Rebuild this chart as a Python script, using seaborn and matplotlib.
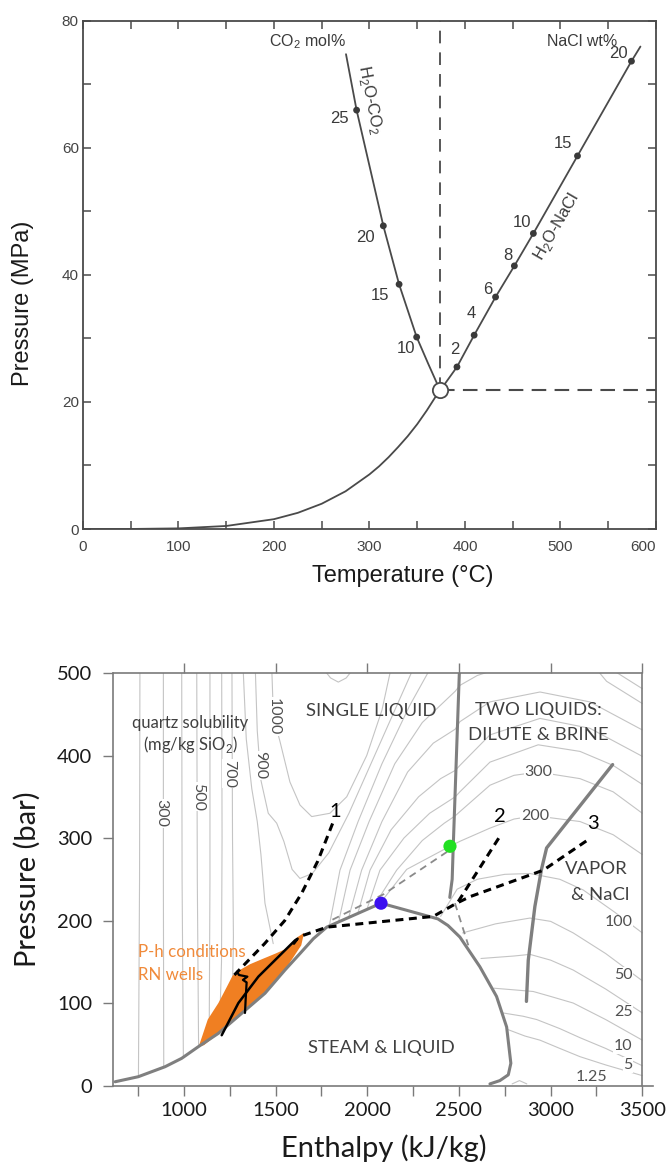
import numpy as np
import pandas as pd
import matplotlib.pyplot as plt
import seaborn as sns

sns.set_style('ticks')
plt.rcParams['font.family'] = ['Liberation Sans', 'DejaVu Sans']
plt.rcParams['mathtext.fontset'] = 'custom'
plt.rcParams['mathtext.rm'] = 'Liberation Sans'

# ---------------- top panel data (T in C, P in MPa)
boil_T = [0, 50, 100, 150, 200, 225, 250, 275, 300, 310, 320, 330, 340, 350, 360, 370, 374]
boil_P = [0.0, 0.01, 0.10, 0.48, 1.55, 2.55, 3.98, 5.94, 8.6, 9.86, 11.3, 12.9, 14.6, 16.5, 18.65, 21.0, 21.8]
crit_T, crit_P = 374, 21.8

co2_T = [374, 361.5, 349.4, 331, 314.5, 286.5, 275.4]
co2_P = [21.8, 26.0, 30.2, 38.5, 47.7, 65.9, 74.7]
co2_mark_T = [349.4, 331, 314.5, 286.5]
co2_mark_P = [30.2, 38.5, 47.7, 65.9]
co2_labels = ['10', '15', '20', '25']
co2_lab_T = [338, 311, 296, 269]
co2_lab_P = [28.4, 36.8, 45.9, 64.6]

nacl_T = [374, 391.6, 409.6, 432, 451.7, 471.6, 517.8, 574.3, 583.7]
nacl_P = [21.8, 25.5, 30.5, 36.5, 41.4, 46.5, 58.7, 73.6, 75.9]
nacl_mark_T = [391.6, 409.6, 432, 451.7, 471.6, 517.8, 574.3]
nacl_mark_P = [25.5, 30.5, 36.5, 41.4, 46.5, 58.7, 73.6]
nacl_labels = ['2', '4', '6', '8', '10', '15', '20']
nacl_lab_T = [389, 407, 424, 445, 460, 503, 561]
nacl_lab_P = [28.3, 33.9, 37.7, 43.1, 48.2, 60.6, 74.8]

# ---------------- bottom panel data (h in kJ/kg, P in bar)
dome_h = [625, 751, 897, 988, 1078, 1188, 1315, 1442, 1551, 1633, 1706, 1779,
          2075, 2385, 2440, 2505, 2614, 2705, 2760, 2783, 2769, 2723, 2669]
dome_P = [4.6, 10.7, 22.8, 33, 47, 63.3, 87.5, 111.8, 140, 160, 178, 192,
          221, 202, 194, 180, 144, 108, 71, 27, 13, 6, 2]
blue_h, blue_P = 2075, 221
green_h, green_P = 2451, 290

liq_bound_h = [2502, 2469, 2463, 2450]
liq_bound_P = [500, 291, 250, 228]
vap_bound_h = [3338, 2978, 2950, 2914, 2878, 2868]
vap_bound_P = [389, 288, 262, 217, 152, 102]

path1_h = [1275, 1440, 1550, 1642, 1730, 1815]
path1_P = [134, 172, 200, 233, 272, 320]
path2_h = [2496, 2723]
path2_P = [223, 302]
path2_ext_h = [2478, 2551]
path2_ext_P = [221, 170]
path3_h = [1650, 1780, 2360, 2487, 2561, 2960, 3218]
path3_P = [182, 192, 205, 221, 229, 261, 300]
grey_dash_h = [1810, 2090, 2440]
grey_dash_P = [201, 232, 284]

rn_h = [1080, 1100, 1130, 1188, 1235, 1265, 1297, 1360, 1424, 1500, 1560, 1620,
        1655, 1640, 1551, 1442, 1315, 1188, 1110]
rn_P = [47, 60, 80, 100, 120, 133, 139, 147, 153, 160, 166, 180,
        185, 170, 140, 112, 87, 63, 49]
well_a_h = [1206, 1297, 1406, 1515, 1606, 1620, 1600]
well_a_P = [61, 100, 132, 156, 176, 178, 172]
well_b_h = [1333, 1338, 1342, 1322, 1346, 1300, 1290]
well_b_P = [88, 110, 125, 128, 132, 134, 138]

# quartz solubility isolines (h, P)
q_200 = [(760, 500), (758, 250), (752, 11)]
q_300 = [(888, 500), (888, 250), (890, 23)]
q_400 = [(988, 500), (990, 250), (997, 34)]
q_500 = [(1070, 500), (1073, 250), (1080, 48)]
q_600 = [(1142, 500), (1142, 250), (1138, 66)]
q_650 = [(1206, 500), (1208, 300), (1205, 150), (1195, 72)]
q_700 = [(1262, 500), (1265, 300), (1270, 180), (1262, 82)]
q_800 = [(1324, 500), (1340, 420), (1370, 360), (1400, 320), (1420, 280), (1442, 221), (1487, 172)]
q_900 = [(1390, 500), (1400, 430), (1420, 370), (1460, 330), (1506, 318), (1545, 296), (1590, 262),
         (1633, 251), (1700, 257), (1790, 282), (1900, 330), (2050, 405), (2200, 480), (2240, 500)]
q_1000 = [(1480, 500), (1488, 447), (1524, 417), (1578, 368), (1633, 340), (1697, 326), (1796, 330),
          (1888, 350), (1997, 400), (2080, 455), (2124, 500)]
q_top = [(1760, 505), (1800, 494), (1842, 489), (1885, 494), (1924, 505)]
q_d1 = [(1795, 196), (1851, 261), (1950, 320), (2080, 390), (2230, 460), (2330, 500)]
q_d2 = [(1845, 200), (1906, 261), (2010, 320), (2150, 390), (2300, 440), (2480, 478),
        (2505, 485), (2600, 497), (2669, 502)]
q_d3 = [(1900, 205), (1969, 261), (2080, 320), (2220, 380), (2360, 415), (2480, 432),
        (2505, 441), (2669, 465), (2942, 477), (3214, 465), (3500, 431)]
q_d4 = [(1950, 210), (2015, 261), (2130, 310), (2280, 350), (2400, 372), (2480, 382),
        (2505, 388), (2669, 425), (2942, 445), (3214, 433), (3500, 399)]
q_d5 = [(2000, 215), (2069, 261), (2200, 300), (2340, 330), (2480, 350),
        (2505, 356), (2669, 392), (2932, 413), (3160, 405), (3341, 388), (3500, 365)]
q_d6 = [(2040, 219), (2160, 261), (2300, 297), (2420, 318), (2480, 327),
        (2505, 332), (2669, 364), (2800, 376), (2932, 380), (3160, 372), (3341, 356), (3500, 330)]
q_d7 = [(2070, 221), (2215, 262), (2451, 290),
        (2505, 296), (2669, 312), (2800, 323), (2914, 327), (3160, 320), (3341, 304), (3500, 280)]
q_arch_top = [(3260, 502), (3305, 490), (3500, 463)]
q_arch_top2 = [(3350, 502), (3500, 481)]
q_150 = [(2400, 205), (2490, 238), (2600, 250), (2750, 256), (2887, 257), (3050, 250),
         (3178, 237), (3350, 210), (3500, 185)]
q_100 = [(2520, 185), (2700, 196), (2887, 203), (3000, 199), (3123, 185), (3300, 160), (3500, 127)]
q_50 = [(2620, 154), (2800, 157), (2887, 159), (3000, 152), (3123, 140), (3300, 117), (3500, 88)]
q_25 = [(2690, 118), (2800, 116), (2905, 114), (3000, 108), (3123, 100), (3300, 80), (3500, 55)]
q_10 = [(2740, 88), (2850, 84), (2924, 80), (3050, 69), (3160, 58), (3300, 45), (3500, 24)]
q_5 = [(2765, 68), (2860, 60), (2942, 55), (3050, 45), (3160, 35), (3300, 25), (3500, 12)]
q_125 = [(2790, 2), (2830, 6), (2870, 2)]

quartz_lines = [q_200, q_300, q_400, q_500, q_600, q_650, q_700, q_800, q_900, q_1000, q_top,
                q_d1, q_d2, q_d3, q_d4, q_d5, q_d6, q_d7, q_arch_top, q_arch_top2,
                q_150, q_100, q_50, q_25, q_10, q_5, q_125]

rot_labels = ['300', '500', '700', '900', '1000']
rot_lab_h = [879, 1078, 1248, 1415, 1488]
rot_lab_P = [330, 350, 378, 388, 447]
flat_labels = ['300', '200', '100', '50', '25', '10', '5', '1.25']
flat_lab_h = [2932, 2914, 3369, 3396, 3396, 3396, 3423, 3223]
flat_lab_P = [380, 327, 198, 134, 89.5, 48, 25, 10.7]

fig = plt.figure(figsize=(6.67, 11.65), dpi=100)

# =============== top panel
ax1 = fig.add_axes([0.1244, 0.5459, 0.8591, 0.4365])
grey = '#4a4a4a'
sns.lineplot(x=boil_T, y=boil_P, ax=ax1, sort=False, estimator=None, color=grey, lw=1.3)
sns.lineplot(x=co2_T, y=co2_P, ax=ax1, sort=False, estimator=None, color=grey, lw=1.3)
sns.lineplot(x=nacl_T, y=nacl_P, ax=ax1, sort=False, estimator=None, color=grey, lw=1.3)
ax1.plot([crit_T, crit_T], [crit_P, 80], color=grey, lw=1.3, ls=(0, (7, 5)))
ax1.plot([crit_T, 600], [crit_P, crit_P], color=grey, lw=1.5, ls=(0, (7, 4)))
sns.scatterplot(x=co2_mark_T + nacl_mark_T, y=co2_mark_P + nacl_mark_P, ax=ax1,
                color='#3a3a3a', s=24, edgecolor='none', zorder=4)
ax1.plot([crit_T], [crit_P], 'o', ms=11, mfc='white', mec=grey, mew=1.3, zorder=5)
for t, x, y in zip(co2_labels, co2_lab_T, co2_lab_P):
    ax1.text(x, y, t, fontsize=12, color='#3a3a3a', ha='center', va='center')
for t, x, y in zip(nacl_labels, nacl_lab_T, nacl_lab_P):
    ax1.text(x, y, t, fontsize=12, color='#3a3a3a', ha='center', va='center')
ax1.text(235, 76.7, 'CO$_2$ mol%', fontsize=11.5, color='#3a3a3a', ha='center', va='center')
ax1.text(523, 76.7, 'NaCl wt%', fontsize=11.5, color='#3a3a3a', ha='center', va='center')
ax1.text(301, 67.5, 'H$_2$O-CO$_2$', fontsize=12, color='#3a3a3a', ha='center', va='center',
         rotation=-79)
ax1.text(496, 47.6, 'H$_2$O-NaCl', fontsize=12, color='#3a3a3a', ha='center', va='center',
         rotation=60)

ax1.set_xlim(0, 600)
ax1.set_ylim(0, 80)
ax1.set_xticks(range(0, 601, 100))
ax1.set_xticks(range(0, 601, 50), minor=True)
ax1.set_yticks(range(0, 81, 20))
ax1.set_yticks(range(0, 81, 10), minor=True)
ax1.tick_params(which='both', direction='in', top=True, right=True, length=6, width=1.1,
                color=grey, labelsize=11, labelcolor='#444444')
ax1.tick_params(axis='x', pad=8)
ax1.tick_params(axis='y', pad=3)
for s in ax1.spines.values():
    s.set_color(grey)
    s.set_linewidth(1.3)
ax1.get_xticklabels()[-1].set_horizontalalignment('right')
ax1.set_xlabel('Temperature (°C)', fontsize=17, color='#1a1a1a')
ax1.set_ylabel('Pressure (MPa)', fontsize=17, color='#1a1a1a')
ax1.xaxis.set_label_coords(0.558, -0.07)
ax1.yaxis.set_label_coords(-0.086, 0.444)

# =============== bottom panel
ax2 = fig.add_axes([0.1699, 0.0682, 0.8096, 0.3541])
bfont = ['Lato', 'DejaVu Sans']
for pts in quartz_lines:
    hh, pp = zip(*pts)
    ax2.plot(hh, pp, color='#c4c4c4', lw=0.8, zorder=1)

ax2.fill(rn_h, rn_P, color='#f07f22', lw=0, zorder=2)
sns.lineplot(x=dome_h, y=dome_P, ax=ax2, sort=False, estimator=None, color='#7f7f7f', lw=2.2, zorder=3)
sns.lineplot(x=liq_bound_h, y=liq_bound_P, ax=ax2, sort=False, estimator=None, color='#7f7f7f', lw=2.2, zorder=3)
sns.lineplot(x=vap_bound_h, y=vap_bound_P, ax=ax2, sort=False, estimator=None, color='#7f7f7f', lw=2.4, zorder=3)
ax2.plot(grey_dash_h, grey_dash_P, color='#8a8a8a', lw=1.3, ls=(0, (4, 3)), zorder=3)
ax2.plot(path2_ext_h, path2_ext_P, color='#8a8a8a', lw=1.3, ls=(0, (4, 3)), zorder=3)
for hh, pp in [(path1_h, path1_P), (path2_h, path2_P), (path3_h, path3_P)]:
    ax2.plot(hh, pp, color='black', lw=2.2, ls=(0, (2.6, 1.8)), zorder=4)
ax2.plot(well_a_h, well_a_P, color='black', lw=1.8, zorder=4)
ax2.plot(well_b_h, well_b_P, color='black', lw=1.6, zorder=4)
sns.scatterplot(x=[blue_h], y=[blue_P], ax=ax2, color='#3b10f0', s=90, edgecolor='none', zorder=5)
sns.scatterplot(x=[green_h], y=[green_P], ax=ax2, color='#22e022', s=90, edgecolor='none', zorder=5)

for t, x, y in zip(rot_labels, rot_lab_h, rot_lab_P):
    ax2.text(x, y, t, fontsize=11.5, color='#505050', ha='center', va='center', rotation=270,
             family=bfont, bbox=dict(fc='white', ec='none', pad=0.5), zorder=2)
for t, x, y in zip(flat_labels, flat_lab_h, flat_lab_P):
    ax2.text(x, y, t, fontsize=11.5, color='#505050', ha='center', va='center',
             family=bfont, bbox=dict(fc='white', ec='none', pad=0.5), zorder=2)
for t, x, y in zip(['1', '2', '3'], [1824, 2723, 3229], [332, 326, 318]):
    ax2.text(x, y, t, fontsize=14.5, color='black', ha='center', va='center', family=bfont, zorder=6)

txt = dict(color='#404040', ha='center', va='center', family=bfont, zorder=6)
ax2.text(1035, 440, 'quartz solubility', fontsize=12, **txt)
ax2.text(1035, 413, '(mg/kg SiO$_2$)', fontsize=12, **txt)
ax2.text(2024, 454, 'SINGLE LIQUID', fontsize=13.3, **txt)
ax2.text(2932, 455, 'TWO LIQUIDS:', fontsize=13.3, **txt)
ax2.text(2932, 425, 'DILUTE & BRINE', fontsize=13.3, **txt)
ax2.text(3250, 263, 'VAPOR', fontsize=13.3, **txt)
ax2.text(3268, 231, '& NaCl', fontsize=13.3, **txt)
ax2.text(2078, 45, 'STEAM & LIQUID', fontsize=13.3, **txt)
ax2.text(751, 162, 'P-h conditions', fontsize=12.2, color='#f08a3a', ha='left', va='center', family=bfont, zorder=6)
ax2.text(751, 134, 'RN wells', fontsize=12.2, color='#f08a3a', ha='left', va='center', family=bfont, zorder=6)

ax2.set_xlim(615, 3560)
ax2.set_ylim(0, 500)
ax2.set_xticks(range(1000, 3501, 500))
ax2.set_xticks(range(750, 3501, 250), minor=True)
ax2.set_yticks(range(0, 501, 100))
for lab in ax2.get_xticklabels() + ax2.get_yticklabels():
    lab.set_family(bfont)
ax2.tick_params(which='both', direction='out', length=7, width=1, color='#7a7a7a',
                labelsize=14.5, labelcolor='#1a1a1a')
ax2.tick_params(axis='x', which='major', top=True, pad=5)
ax2.tick_params(axis='x', which='minor', top=False)
ax2.tick_params(axis='y', pad=8)
ax2.spines['top'].set_visible(False)
ax2.spines['right'].set_visible(False)
for s in ['left', 'bottom']:
    ax2.spines[s].set_color('#7a7a7a')
    ax2.spines[s].set_linewidth(1.2)
ax2.plot([615, 3500], [500, 500], color='#7a7a7a', lw=1.2, clip_on=False, zorder=6)
ax2.plot([3500, 3500], [0, 500], color='#7a7a7a', lw=1.2, clip_on=False, zorder=6)
ax2.set_xlabel('Enthalpy (kJ/kg)', fontsize=21, family=bfont, color='#1a1a1a')
ax2.set_ylabel('Pressure (bar)', fontsize=21, family=bfont, color='#1a1a1a')
ax2.xaxis.set_label_coords(0.501, -0.118)
ax2.yaxis.set_label_coords(-0.135, 0.5)

fig.savefig('out.png', dpi=100)
